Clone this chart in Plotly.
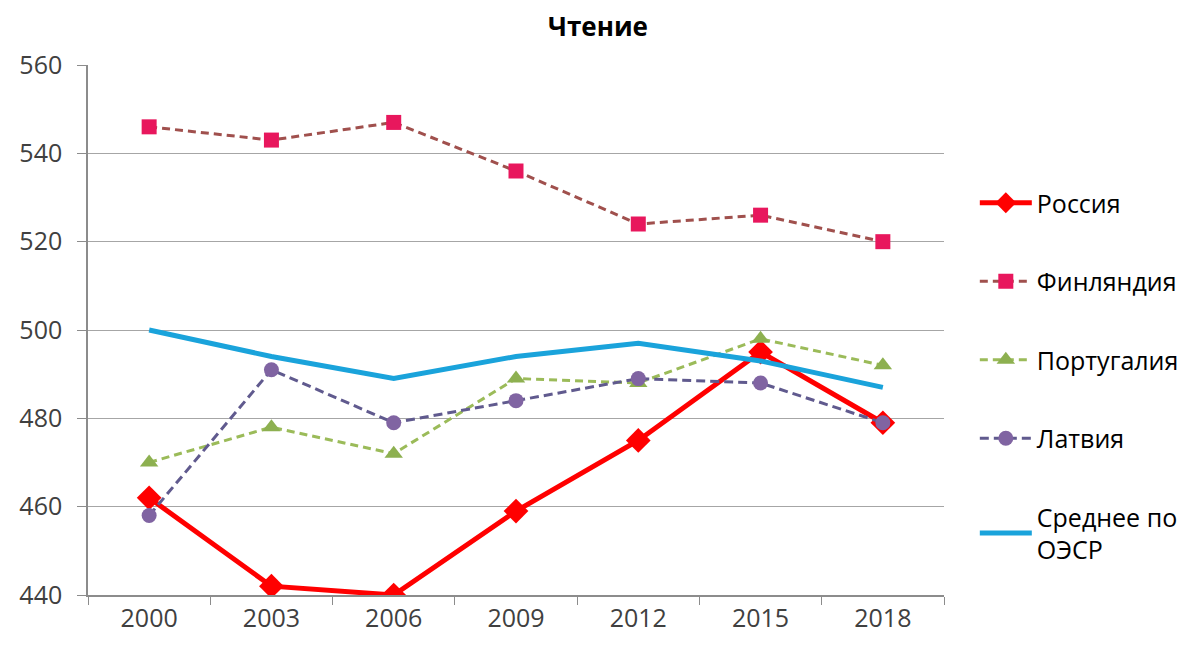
import plotly.graph_objects as go

years = ["2000", "2003", "2006", "2009", "2012", "2015", "2018"]
russia = [462, 442, 440, 459, 475, 495, 479]
finland = [546, 543, 547, 536, 524, 526, 520]
portugal = [470, 478, 472, 489, 488, 498, 492]
latvia = [458, 491, 479, 484, 489, 488, 479]
oecd = [500, 494, 489, 494, 497, 493, 487]

names = ["Россия", "Финляндия", "Португалия", "Латвия", "Среднее по<br>ОЭСР"]

fig = go.Figure()
fig.add_trace(go.Scatter(x=years, y=russia, name=names[0], legendgroup="a", legendrank=1,
                         mode="lines+markers",
                         line=dict(color="#FF0000", width=5),
                         marker=dict(symbol="diamond", size=19, color="#FF0000")))
fig.add_trace(go.Scatter(x=years, y=finland, name=names[1], legendgroup="b", legendrank=2,
                         mode="lines+markers",
                         line=dict(color="#A0504D", width=3, dash="8px,5px"),
                         marker=dict(symbol="square", size=15, color="#E8175D")))
fig.add_trace(go.Scatter(x=years, y=portugal, name=names[2], legendgroup="c", legendrank=3,
                         mode="lines+markers",
                         line=dict(color="#9BBB59", width=3, dash="8px,5px"),
                         marker=dict(symbol="triangle-up", size=16, color="#8DB050")))
fig.add_trace(go.Scatter(x=years, y=latvia, name=names[3], legendgroup="d", legendrank=4,
                         mode="lines+markers",
                         line=dict(color="#605A8E", width=3, dash="9px,5px"),
                         marker=dict(symbol="circle", size=15, color="#8064A2")))
fig.add_trace(go.Scatter(x=years, y=oecd, name=names[4], legendgroup="e", legendrank=5,
                         mode="lines", line=dict(color="#1AA3DB", width=5)))

fig.update_layout(
    width=1188, height=646,
    paper_bgcolor="white", plot_bgcolor="white",
    margin=dict(l=80, r=252, t=57, b=59),
    font=dict(family="Open Sans", size=25, color="#404040"),
    title=dict(text="<b>Чтение</b>", x=590 / 1188, xanchor="center", y=1 - 19 / 646,
               yanchor="middle", font=dict(size=26, color="#000000")),
    legend=dict(x=1.036, xanchor="left", y=0.783, yanchor="top",
                tracegroupgap=43, font=dict(size=25, color="#000000"),
                bgcolor="rgba(0,0,0,0)", itemwidth=52),
    showlegend=True,
)
fig.update_xaxes(type="category", range=[-0.5, 6.5], tickson="boundaries",
                 ticks="outside", ticklen=8, tickcolor="#8C8C8C",
                 showline=True, linecolor="#8C8C8C", linewidth=1.5, automargin=False,
                 showgrid=False, tickfont=dict(size=25, color="#404040"))
fig.update_yaxes(range=[440, 560], dtick=20, ticks="outside", ticklen=9,
                 tickcolor="#8C8C8C", showline=True, linecolor="#8C8C8C", linewidth=1.5,
                 showgrid=True, gridcolor="#A6A6A6", gridwidth=1.2, zeroline=False,
                 ticklabelstandoff=10, automargin=False,
                 tickfont=dict(size=25, color="#404040"))

fig.write_html("out.html")
